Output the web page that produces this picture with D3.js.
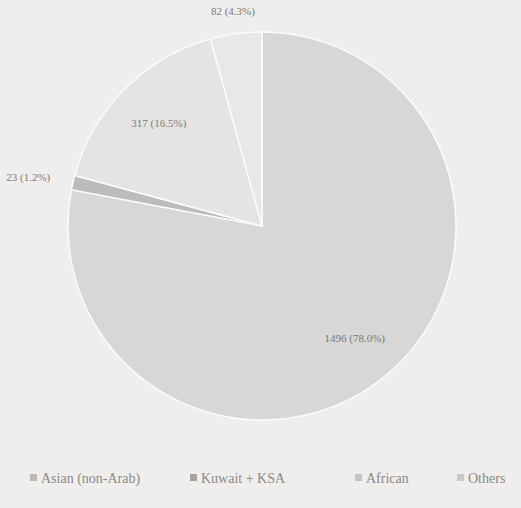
<!DOCTYPE html>
<html>
<head>
<meta charset="utf-8">
<script src="https://cdn.jsdelivr.net/npm/d3@7"></script>
<style>
  body { margin: 0; background: #efeeec; }
  svg { display: block; }
</style>
</head>
<body>
<div id="chart"></div>
<script>
const categories = ["Asian (non-Arab)", "Kuwait + KSA", "African", "Others"];
const counts = [1496, 23, 317, 82];
const colours = ["#d8d7d5", "#bdbcba", "#e5e4e2", "#e9e8e6"];

const width = 521;
const height = 508;
const center = { x: 262, y: 226 };
const radius = 194;

const total = d3.sum(counts);
const data = categories.map((c, i) => ({ category: c, count: counts[i] }));

const colourScale = d3.scaleOrdinal(categories, colours);

const pie = d3.pie()
    .value(d => d.count)
    .sort(null);

const arcs = pie(data);

const arc = d3.arc().innerRadius(0).outerRadius(radius);
const insideArc = d3.arc().innerRadius(radius * 0.75).outerRadius(radius * 0.75);
const outsideArc = d3.arc().innerRadius(radius * 1.12).outerRadius(radius * 1.12);

const midAngle = d => (d.startAngle + d.endAngle) / 2;
const isInside = d => d.data.count / total > 0.1;

const svg = d3.create("svg")
    .attr("width", width)
    .attr("height", height);

svg.append("rect")
    .attr("width", width)
    .attr("height", height)
    .attr("fill", "#efeeec");

const g = svg.append("g")
    .attr("transform", `translate(${center.x},${center.y})`);

g.selectAll("path")
    .data(arcs)
    .join("path")
    .attr("d", arc)
    .attr("fill", d => colourScale(d.data.category))
    .attr("stroke", "#fbfbfa")
    .attr("stroke-width", 1.5);

// labels: big slices inside, small ones outside
g.selectAll("text.value")
    .data(arcs)
    .join("text")
    .attr("class", "value")
    .attr("transform", d => `translate(${(isInside(d) ? insideArc : outsideArc).centroid(d)})`)
    .attr("text-anchor", d => {
        if (isInside(d)) return "middle";
        const s = Math.sin(midAngle(d));
        return s < -0.5 ? "end" : s > 0.5 ? "start" : "middle";
    })
    .attr("dy", "0.35em")
    .attr("font-family", "Liberation Serif, serif")
    .attr("font-size", "11px")
    .attr("fill", "#7a7977")
    .text(d => `${d.data.count} (${(d.data.count / total * 100).toFixed(1)}%)`);

// legend
const legendX = d3.scaleOrdinal(categories, [30, 190, 355, 457]);

const legend = svg.append("g")
    .selectAll("g")
    .data(categories)
    .join("g")
    .attr("transform", d => `translate(${legendX(d)},478)`);

legend.append("rect")
    .attr("x", 0)
    .attr("y", -4)
    .attr("width", 7)
    .attr("height", 7)
    .attr("fill", d => d3.color(colourScale(d)).darker(0.4));

legend.append("text")
    .attr("x", 11)
    .attr("y", 0)
    .attr("dy", "0.35em")
    .attr("font-family", "Liberation Serif, serif")
    .attr("font-size", "14px")
    .attr("fill", "#8a8987")
    .text(d => d);

d3.select("#chart").node().append(svg.node());
</script>
</body>
</html>
